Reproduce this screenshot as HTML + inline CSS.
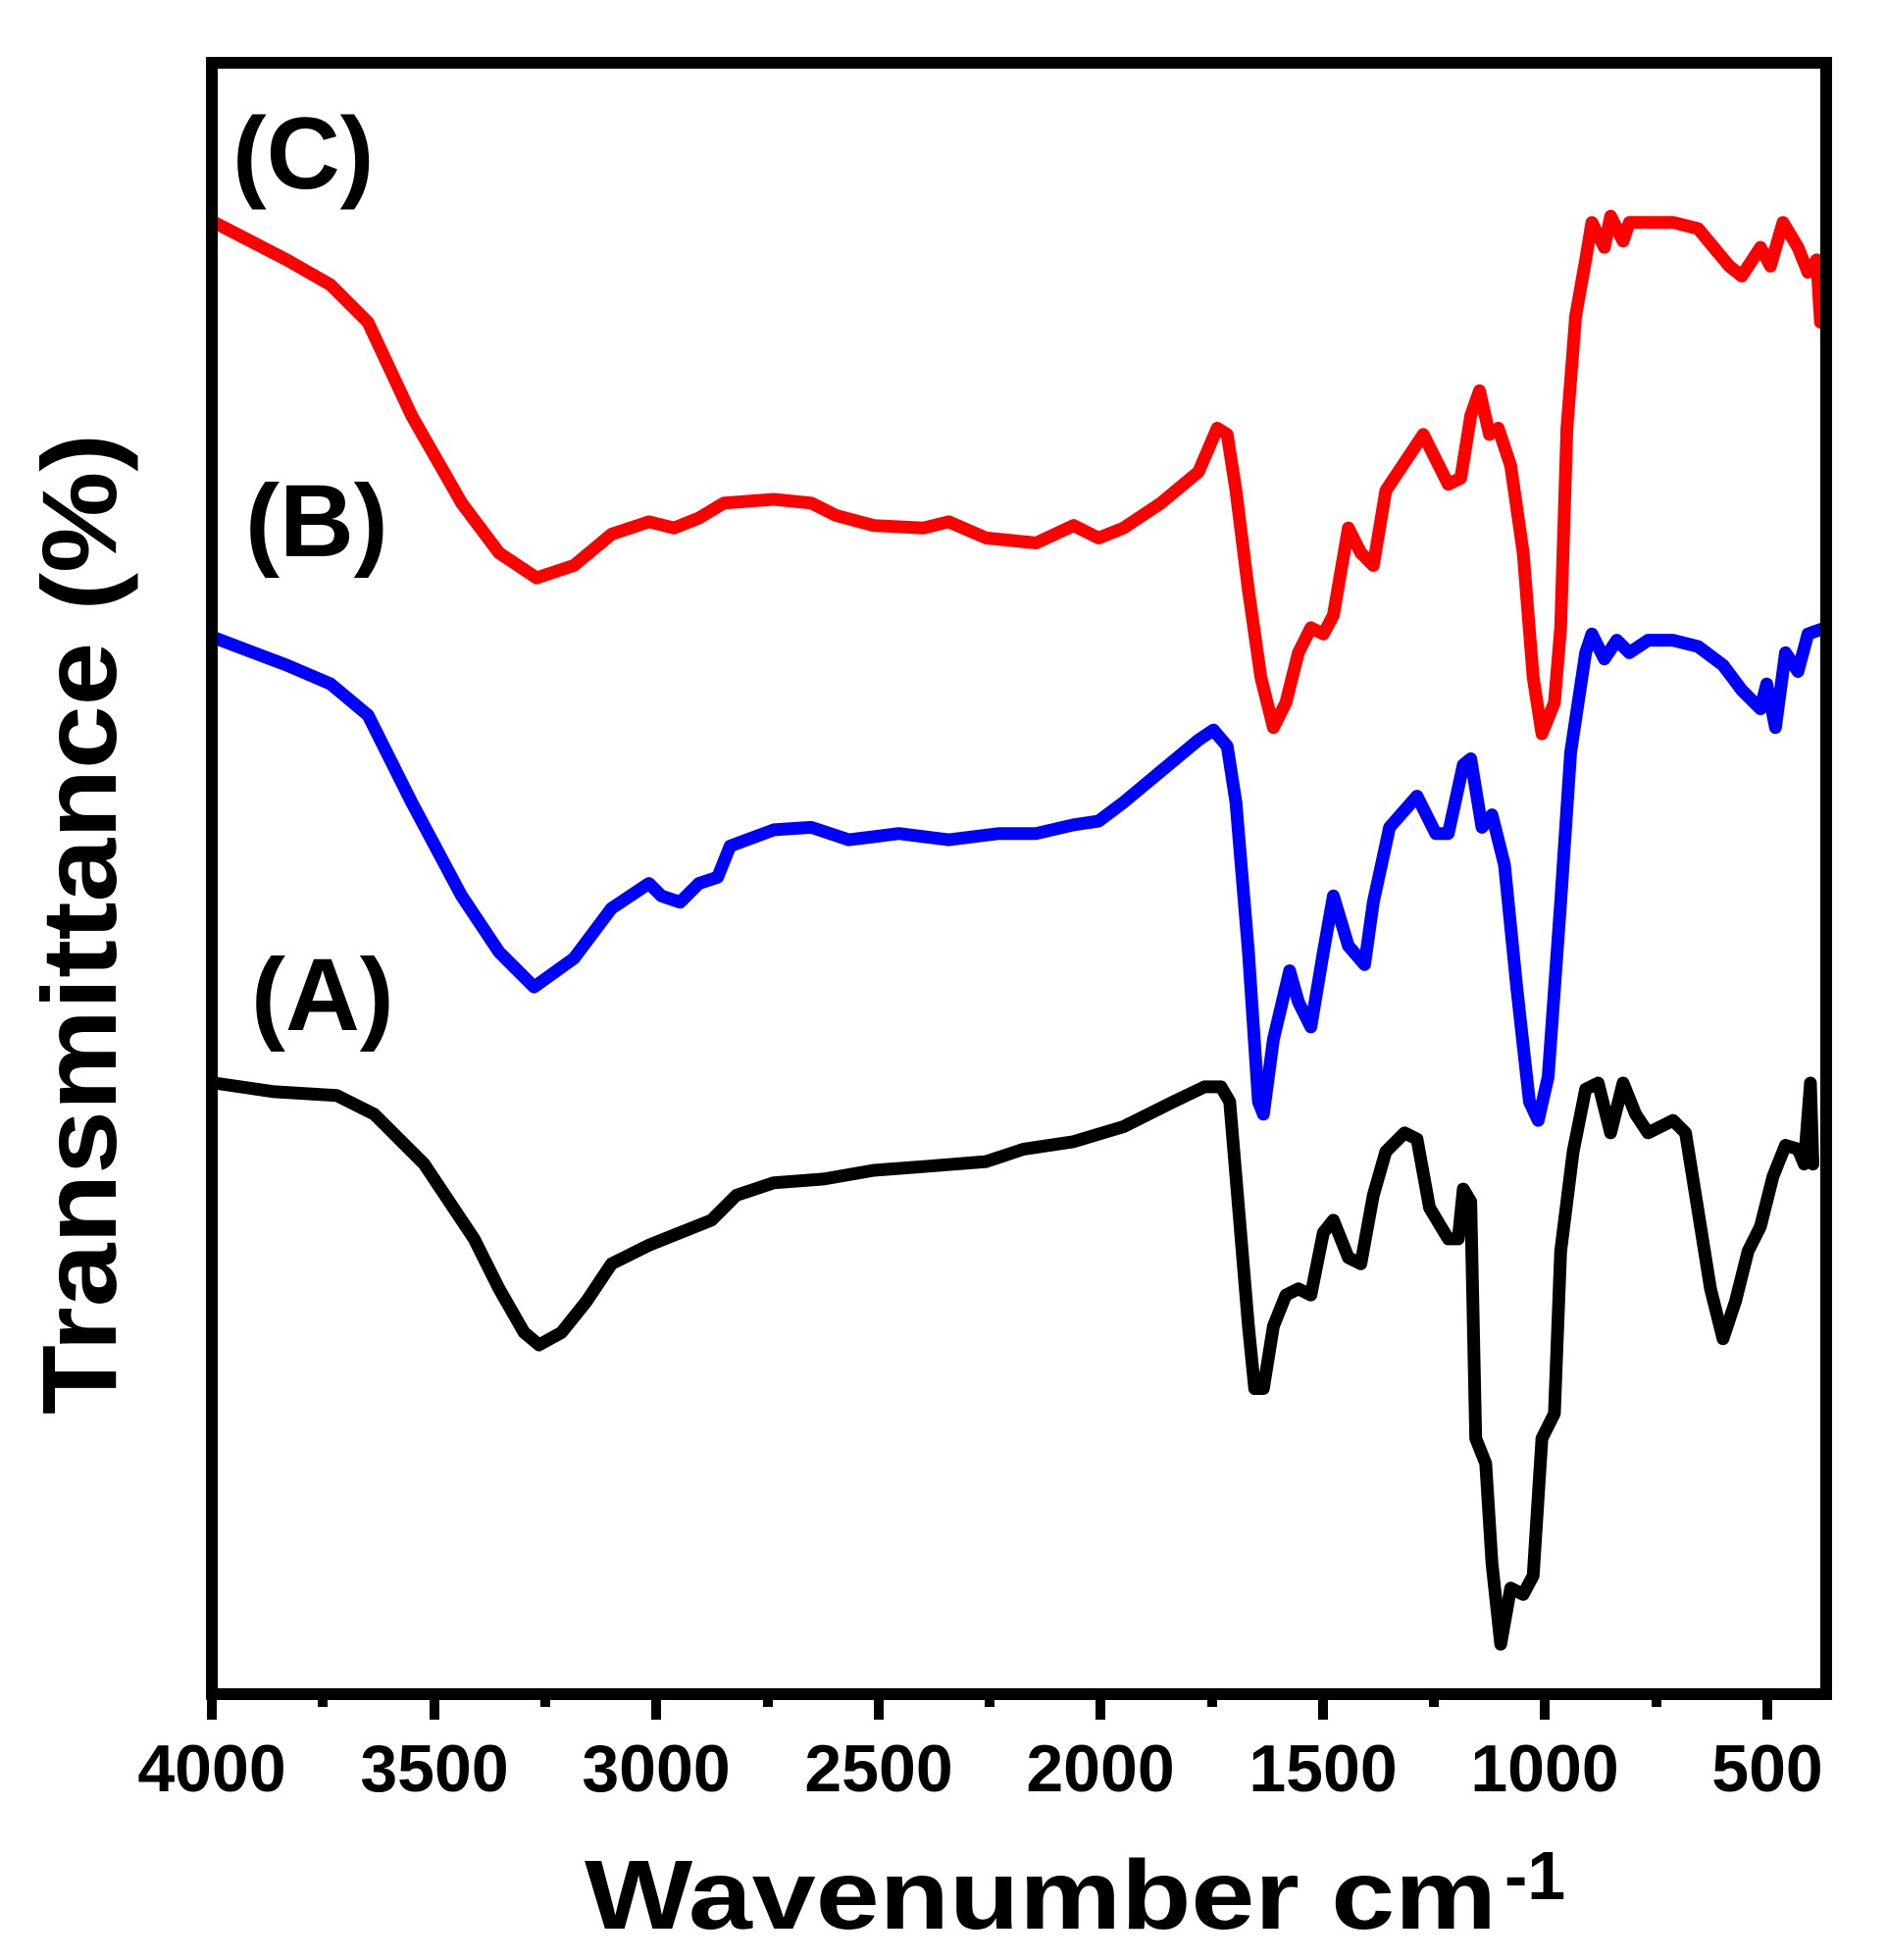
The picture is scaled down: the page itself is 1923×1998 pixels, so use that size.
<!DOCTYPE html>
<html><head><meta charset="utf-8"><style>html,body{margin:0;padding:0;background:#fff}svg{display:block}</style></head>
<body>
<svg xmlns="http://www.w3.org/2000/svg" width="1923" height="1998" viewBox="0 0 1923 1998">
<defs><clipPath id="c"><rect x="216" y="64" width="1646" height="1663"/></clipPath></defs>
<g clip-path="url(#c)" fill="none" stroke-linejoin="round" stroke-linecap="round">
<g transform="translate(216,64) scale(1.2734,1.2714) translate(-170,-47)">
<polyline vector-effect="non-scaling-stroke" stroke="#ff0000" stroke-width="13" points="172,175 230,205 265,225 295,255 330,330 370,400 400,440 430,460 460,450 490,425 520,415 540,420 560,412 580,400 620,397 650,400 670,410 700,418 740,420 760,415 790,428 830,432 860,418 880,428 900,420 930,400 960,375 975,340 983,345 990,390 1000,470 1010,540 1020,580 1030,560 1040,520 1050,500 1060,505 1068,490 1080,420 1090,440 1100,450 1110,390 1130,360 1140,345 1150,365 1160,385 1170,380 1178,330 1185,310 1193,345 1200,340 1210,370 1220,440 1228,540 1235,585 1245,560 1250,500 1255,340 1262,250 1270,205 1275,175 1285,195 1290,170 1300,190 1305,175 1320,175 1340,175 1360,180 1385,210 1395,218 1410,195 1418,210 1428,175 1440,195 1448,215 1455,205 1458,255 1470,255"/>
<polyline vector-effect="non-scaling-stroke" stroke="#0000ff" stroke-width="13" points="172,508 230,530 265,545 295,570 330,640 370,715 400,760 428,788 460,765 490,725 520,705 530,715 545,720 560,705 575,700 585,675 620,662 650,660 680,670 720,665 760,670 800,665 830,665 860,658 880,655 900,640 930,615 960,590 972,582 983,595 990,640 1000,760 1008,880 1012,890 1020,830 1033,775 1040,800 1050,820 1060,760 1068,715 1080,755 1093,770 1100,720 1113,660 1135,635 1150,665 1160,665 1172,610 1178,605 1187,660 1195,650 1205,690 1215,790 1225,880 1232,895 1240,860 1250,720 1258,600 1270,520 1275,505 1285,525 1295,510 1305,520 1320,510 1340,510 1360,515 1380,530 1395,550 1410,565 1415,545 1422,580 1430,520 1440,535 1448,505 1462,500"/>
<polyline vector-effect="non-scaling-stroke" stroke="#000000" stroke-width="13" points="172,865 220,872 270,875 300,890 340,930 380,990 400,1030 420,1065 432,1075 450,1065 470,1040 490,1010 520,995 545,985 570,975 590,955 620,945 660,942 700,935 740,932 790,928 820,918 860,912 900,900 940,880 965,868 978,868 985,880 990,940 1000,1060 1005,1110 1012,1110 1020,1060 1030,1035 1040,1030 1050,1035 1060,985 1068,975 1080,1005 1090,1010 1100,955 1110,920 1125,905 1135,910 1145,965 1160,990 1168,990 1172,950 1178,960 1182,1150 1190,1170 1195,1250 1202,1315 1210,1270 1220,1275 1228,1260 1235,1150 1245,1130 1250,1000 1260,920 1270,870 1280,865 1290,905 1300,865 1310,890 1320,905 1340,895 1350,905 1358,955 1370,1030 1380,1070 1390,1040 1400,1000 1410,980 1420,940 1430,915 1440,918 1445,930 1450,865 1452,930"/>
</g></g>
<rect x="216" y="64" width="1646" height="1663" fill="none" stroke="#000" stroke-width="12"/>
<g stroke="#000" stroke-width="10">
<line x1="216" y1="1727" x2="216" y2="1753"/><line x1="443" y1="1727" x2="443" y2="1753"/><line x1="669" y1="1727" x2="669" y2="1753"/><line x1="896" y1="1727" x2="896" y2="1753"/><line x1="1122" y1="1727" x2="1122" y2="1753"/><line x1="1349" y1="1727" x2="1349" y2="1753"/><line x1="1575" y1="1727" x2="1575" y2="1753"/><line x1="1802" y1="1727" x2="1802" y2="1753"/>
<line x1="329" y1="1727" x2="329" y2="1740"/><line x1="556" y1="1727" x2="556" y2="1740"/><line x1="783" y1="1727" x2="783" y2="1740"/><line x1="1009" y1="1727" x2="1009" y2="1740"/><line x1="1236" y1="1727" x2="1236" y2="1740"/><line x1="1462" y1="1727" x2="1462" y2="1740"/><line x1="1689" y1="1727" x2="1689" y2="1740"/>
</g>
<g font-family="Liberation Sans, Arial, sans-serif" font-weight="bold" fill="#000">
<g font-size="68" text-anchor="middle">
<text x="216" y="1826">4000</text><text x="443" y="1826">3500</text><text x="669" y="1826">3000</text><text x="896" y="1826">2500</text><text x="1122" y="1826">2000</text><text x="1349" y="1826">1500</text><text x="1575" y="1826">1000</text><text x="1802" y="1826">500</text>
</g>
<text x="596" y="1966" font-size="100" textLength="930" lengthAdjust="spacingAndGlyphs">Wavenumber cm</text>
<text x="1534" y="1936" font-size="70">-1</text>
<text transform="translate(118,1442) rotate(-90)" font-size="108" textLength="1000" lengthAdjust="spacingAndGlyphs">Transmittance (%)</text>
<text x="237" y="192" font-size="104">(C)</text>
<text x="250" y="567" font-size="105">(B)</text>
<text x="256" y="1050" font-size="105">(A)</text>
</g>
</svg>
</body></html>
